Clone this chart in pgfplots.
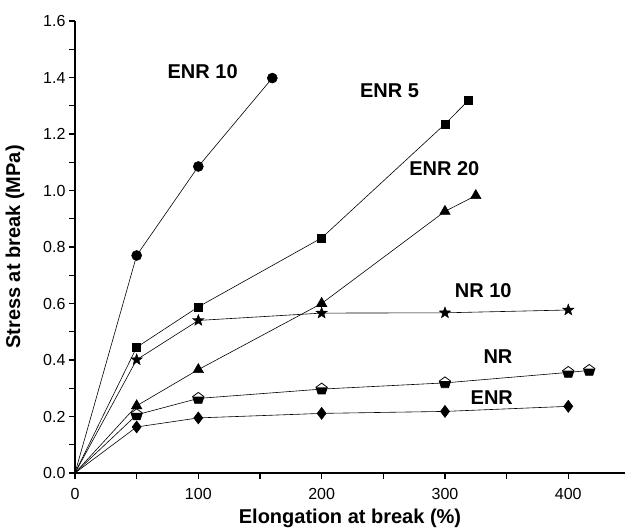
\documentclass[border=0pt]{standalone}
\usepackage{pgfplots}
\pgfplotsset{compat=1.18}
\usepackage{fontspec}
\setmainfont{Liberation Sans}

\pgfdeclareplotmark{halfpent}{%
  \pgfpathmoveto{\pgfpointpolar{90}{\pgfplotmarksize}}%
  \pgfpathlineto{\pgfpointpolar{162}{\pgfplotmarksize}}%
  \pgfpathlineto{\pgfpointpolar{234}{\pgfplotmarksize}}%
  \pgfpathlineto{\pgfpointpolar{306}{\pgfplotmarksize}}%
  \pgfpathlineto{\pgfpointpolar{18}{\pgfplotmarksize}}%
  \pgfpathclose
  \pgfsetfillcolor{white}%
  \pgfusepathqfill
  \pgfpathmoveto{\pgfpointpolar{162}{\pgfplotmarksize}}%
  \pgfpathlineto{\pgfpointpolar{234}{\pgfplotmarksize}}%
  \pgfpathlineto{\pgfpointpolar{306}{\pgfplotmarksize}}%
  \pgfpathlineto{\pgfpointpolar{18}{\pgfplotmarksize}}%
  \pgfpathclose
  \pgfsetfillcolor{black}%
  \pgfusepathqfill
  \pgfpathmoveto{\pgfpointpolar{90}{\pgfplotmarksize}}%
  \pgfpathlineto{\pgfpointpolar{162}{\pgfplotmarksize}}%
  \pgfpathlineto{\pgfpointpolar{234}{\pgfplotmarksize}}%
  \pgfpathlineto{\pgfpointpolar{306}{\pgfplotmarksize}}%
  \pgfpathlineto{\pgfpointpolar{18}{\pgfplotmarksize}}%
  \pgfpathclose
  \pgfusepathqstroke
}

\pgfdeclareplotmark{fstar}{%
  \pgfpathmoveto{\pgfpointpolar{90}{\pgfplotmarksize}}%
  \pgfpathlineto{\pgfpointpolar{126}{0.42\pgfplotmarksize}}%
  \pgfpathlineto{\pgfpointpolar{162}{\pgfplotmarksize}}%
  \pgfpathlineto{\pgfpointpolar{198}{0.42\pgfplotmarksize}}%
  \pgfpathlineto{\pgfpointpolar{234}{\pgfplotmarksize}}%
  \pgfpathlineto{\pgfpointpolar{270}{0.42\pgfplotmarksize}}%
  \pgfpathlineto{\pgfpointpolar{306}{\pgfplotmarksize}}%
  \pgfpathlineto{\pgfpointpolar{342}{0.42\pgfplotmarksize}}%
  \pgfpathlineto{\pgfpointpolar{18}{\pgfplotmarksize}}%
  \pgfpathlineto{\pgfpointpolar{54}{0.42\pgfplotmarksize}}%
  \pgfpathclose
  \pgfusepathqfillstroke
}

\newcommand{\tickfont}{\fontsize{16bp}{19bp}\selectfont}

\begin{document}
\begin{tikzpicture}
\begin{axis}[name=ax,
  scale only axis, width=550bp, height=452bp,
  xmin=0, xmax=446, ymin=0, ymax=1.6,
  axis x line=bottom, axis y line=left,
  axis line style={-, line width=1.3pt},
  xtick={0,100,200,300,400}, minor xtick={50,150,250,350,450},
  ytick={0,0.2,0.4,0.6,0.8,1.0,1.2,1.4,1.6},
  minor ytick={0.1,0.3,0.5,0.7,0.9,1.1,1.3,1.5},
  tick align=outside,
  major tick length=6bp, minor tick length=6bp,
  tick style={line width=1.2pt, black},
  tick label style={font=\tickfont},
  /pgf/number format/assume math mode=true,
  xticklabel style={font=\tickfont, yshift=-6bp},
  yticklabel style={font=\tickfont, /pgf/number format/fixed, /pgf/number format/fixed zerofill, /pgf/number format/precision=1},
  scaled y ticks=false,
  xlabel={Elongation at break (\%)}, ylabel={Stress at break (MPa)},
  label style={font=\fontsize{20bp}{24bp}\selectfont\bfseries},
  xlabel style={at={(axis description cs:0.5,-0.0996)}, anchor=center},
  ylabel style={at={(axis description cs:-0.109,0.5)}, anchor=center},
  clip=false,
  every axis plot/.append style={black, line width=0.6pt, mark indices={2,3,4,5,6,7}},
]
% ENR 10
\addplot[mark=*, mark size=5pt] coordinates {(0,0) (50,0.77) (100,1.085) (160,1.398)};
% ENR 5
\addplot[mark=square*, mark size=4pt] coordinates {(0,0) (50,0.445) (100,0.588) (200,0.832) (300,1.235) (319,1.319)};
% ENR 20
\addplot[mark=triangle*, mark size=6pt] coordinates {(0,0) (50,0.238) (100,0.366) (200,0.60) (300,0.926) (325,0.982)};
% NR 10
\addplot[mark=fstar, mark size=6pt, mark options={line width=0.4pt, fill=black}] coordinates {(0,0) (50,0.401) (100,0.540) (200,0.566) (300,0.567) (400,0.577)};
% NR
\addplot[mark=halfpent, mark size=6pt, mark options={line width=0.8pt}] coordinates {(0,0) (50,0.206) (100,0.264) (200,0.297) (300,0.319) (400,0.356) (417,0.363)};
% ENR
\addplot[mark=diamond*, mark size=6pt] coordinates {(0,0) (50,0.163) (100,0.195) (200,0.211) (300,0.218) (400,0.236)};

\begin{scope}[every node/.style={font=\fontsize{20bp}{24bp}\selectfont\bfseries}]
\node at (axis cs:103.5,1.42) {ENR 10};
\node at (axis cs:255,1.353) {ENR 5};
\node at (axis cs:299.5,1.076) {ENR 20};
\node at (axis cs:331,0.646) {NR 10};
\node at (axis cs:343,0.413) {NR};
\node at (axis cs:338,0.268) {ENR};
\end{scope}
\end{axis}
\pgfresetboundingbox
\path ([shift={(-75bp,-55.7bp)}]ax.south west) rectangle ([shift={(1bp,21bp)}]ax.north east);
\end{tikzpicture}
\end{document}
